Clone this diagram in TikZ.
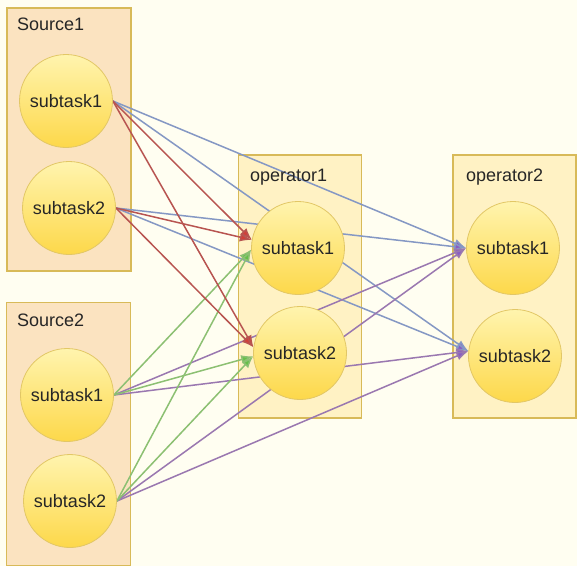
\documentclass[tikz,border=0pt]{standalone}
\usepackage{fontspec}
\setmainfont{Liberation Sans}
\usetikzlibrary{arrows.meta}

\definecolor{bgcream}{HTML}{FFFEF1}
\definecolor{srcfill}{HTML}{FBE3C0}
\definecolor{opfill}{HTML}{FFF2C4}
\definecolor{boxedge}{HTML}{D8BA58}
\definecolor{circedge}{HTML}{E2C766}
\definecolor{circtop}{HTML}{FFF4AE}
\definecolor{circbot}{HTML}{FDD84A}
\definecolor{linkred}{HTML}{B85450}
\definecolor{linkblue}{HTML}{8598C4}
\definecolor{linkgreen}{HTML}{8CC072}
\definecolor{linkpurple}{HTML}{9A78B0}
\definecolor{tipred}{HTML}{D23F38}
\definecolor{tipgreen}{HTML}{66C048}
\definecolor{tippurple}{HTML}{8A5CC4}

\pgfdeclarelayer{paper}
\pgfdeclarelayer{boxes}
\pgfdeclarelayer{links}
\pgfsetlayers{paper,boxes,links,main}

\tikzset{
  txt/.style={font=\fontsize{18}{21}\selectfont, text=black!85},
  task/.style={circle, minimum size=93pt, inner sep=0pt, draw=circedge,
    line width=0.8pt, top color=circtop, bottom color=circbot, txt},
  srcbox/.style={rectangle, draw=boxedge, line width=1.6pt, fill=srcfill,
    minimum width=124pt, minimum height=263pt, inner sep=0pt},
  opbox/.style={rectangle, draw=boxedge, line width=1.4pt, fill=opfill,
    minimum width=123pt, minimum height=263pt, inner sep=0pt},
  grplabel/.style={txt, anchor=west, inner sep=0pt},
  link/.style={line width=1.5pt},
  redlink/.style={link, draw=linkred, -{Latex[length=12pt,width=9pt,fill=tipred]}},
  greenlink/.style={link, draw=linkgreen, -{Latex[length=12pt,width=9pt,fill=tipgreen]}},
  bluelink/.style={link, draw=linkblue, -{Latex[length=12pt,width=9pt,fill=tippurple]}},
  purplelink/.style={link, draw=linkpurple, -{Latex[length=12pt,width=9pt,fill=tippurple]}},
}

\begin{document}
\begin{tikzpicture}[x=1pt,y=-1pt]
\useasboundingbox (0,0) rectangle (577,566);
\begin{pgfonlayer}{paper}
  \fill[bgcream] (0,0) rectangle (577,566);
\end{pgfonlayer}

% group frames
\begin{pgfonlayer}{boxes}
  \node[srcbox] (B1) at (69,139.5) {};
  \node[srcbox] (B2) at (68.5,434) {};
  \node[opbox]  (B3) at (300,286.5) {};
  \node[opbox]  (B4) at (514.5,286.5) {};
\end{pgfonlayer}

\node[grplabel] (L1) at (17,24)  {Source1};
\node[grplabel] (L2) at (17,320) {Source2};
\node[grplabel] (L3) at (250,177) {operator1};
\node[grplabel] (L4) at (466,177) {operator2};

% subtasks
\node[task] (S1a) at (66,101)  {subtask1};
\node[task] (S1b) at (69,208)  {subtask2};
\node[task] (S2a) at (67,395)  {subtask1};
\node[task] (S2b) at (70,501)  {subtask2};
\node[task] (O1a) at (298,248) {subtask1};
\node[task] (O1b) at (300,353) {subtask2};
\node[task] (O2a) at (513,248) {subtask1};
\node[task] (O2b) at (515,356) {subtask2};

% all-to-all connections
\begin{pgfonlayer}{links}
  % Source1 -> operator2
  \draw[bluelink] (S1a.east) -- (O2a.west);
  \draw[bluelink] (S1a.east) -- (O2b.174);
  \draw[bluelink] (S1b.east) -- (O2a.west);
  \draw[bluelink] (S1b.east) -- (O2b.174);
  % Source2 -> operator2
  \draw[purplelink] (S2a.east) -- (O2a.west);
  \draw[purplelink] (S2a.east) -- (O2b.174);
  \draw[purplelink] (S2b.east) -- (O2a.west);
  \draw[purplelink] (S2b.east) -- (O2b.174);
  % Source2 -> operator1
  \draw[greenlink] (S2a.east) -- (O1a.182);
  \draw[greenlink] (S2a.east) -- (O1b.184);
  \draw[greenlink] (S2b.east) -- (O1a.182);
  \draw[greenlink] (S2b.east) -- (O1b.184);
  % Source1 -> operator1
  \draw[redlink] (S1a.east) -- (O1a.170);
  \draw[redlink] (S1a.east) -- (O1b.173);
  \draw[redlink] (S1b.east) -- (O1a.170);
  \draw[redlink] (S1b.east) -- (O1b.173);
\end{pgfonlayer}
\end{tikzpicture}
\end{document}
